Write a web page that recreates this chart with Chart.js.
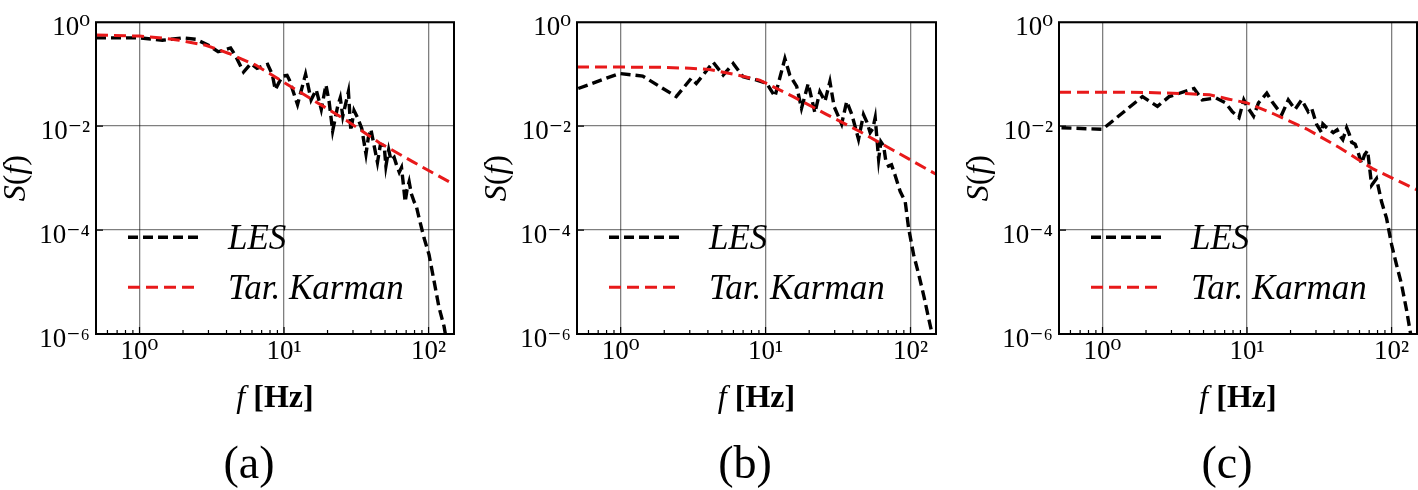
<!DOCTYPE html>
<html>
<head>
<meta charset="utf-8">
<script src="https://cdn.jsdelivr.net/npm/chart.js@4/dist/chart.umd.min.js"></script>
<style>
  html, body { margin: 0; padding: 0; background: #fff; }
  #wrap { position: relative; width: 1418px; height: 490px; overflow: hidden; background: #fff; }
  .panel { position: absolute; top: 0; height: 490px; }
  .cap { position: absolute; top: 440px; font-family: "Liberation Serif", "DejaVu Serif", serif;
         font-size: 46px; line-height: 46px; transform: translateX(-50%); color: #000; white-space: nowrap; }
</style>
</head>
<body>
<div id="wrap"></div>
<script>
// ---------------- data ----------------
const seriesNames = ['LES', 'Tar. Karman'];
const panelCaptions = ['(a)', '(b)', '(c)'];
const xTickValues = [1, 10, 100];
const xTickLabels = ['10⁰', '10¹', '10²'];
const yTickValues = [1e-6, 1e-4, 1e-2, 1];
const yTickLabels = ['10⁻⁶', '10⁻⁴', '10⁻²', '10⁰'];
const xRange = [0.5, 150];
const yRange = [1e-6, 1];

// panel (a)
const fA_LES = [0.5, 0.7, 1.0, 1.44, 2.0, 2.45, 3.0, 3.5, 4.27, 4.6,
                5.25, 5.9, 6.5, 7.7, 8.3, 8.7, 9.7, 10.5, 10.9, 12.4,
                14.1, 15.4, 16.7, 18.1, 19.5, 20.5, 21.7, 23.5, 24.5, 25.5,
                27.9, 29.0, 30.5, 32.3, 34.5, 36.9, 38.3, 39.9, 41.5, 44.3,
                46.5, 49.3, 50.7, 53.0, 55.0, 57.8, 60.0, 62.7, 65.0, 66.5,
                68.9, 71.0, 73.4, 76.0, 79.5, 82.0, 86.0, 93.0, 100.7, 109,
                118, 128, 135];
const sA_LES = [0.50, 0.50, 0.50, 0.45, 0.50, 0.47, 0.36, 0.27, 0.32, 0.23,
                0.11, 0.16, 0.13, 0.155, 0.098, 0.05, 0.091, 0.095, 0.077, 0.026,
                0.10, 0.032, 0.05, 0.021, 0.062, 0.03, 0.0081, 0.024, 0.035, 0.0155,
                0.046, 0.0081, 0.02, 0.0145, 0.009, 0.0029, 0.006, 0.0087, 0.005, 0.0020,
                0.0045, 0.0042, 0.0017, 0.0035, 0.0022, 0.0025, 0.0018, 0.0013, 0.0016, 0.0009,
                0.00035, 0.0006, 0.00085, 0.0005, 0.00035, 0.0003, 0.00017, 7.1e-5, 3.4e-5, 1.07e-5,
                3.3e-6, 1.4e-6, 6e-7];
const fA_KAR = [0.5, 1.0, 1.5, 1.88, 2.87, 4.16, 6.36, 9.7, 15.8, 26.9, 45.6, 77, 100, 142];
const sA_KAR = [0.57, 0.54, 0.49, 0.45, 0.36, 0.25, 0.15, 0.073, 0.032, 0.013, 0.0048, 0.0021, 0.0014, 0.00082];

// panel (b)
const fB_LES = [0.51, 0.98, 1.42, 2.42, 3.07, 3.33, 4.35, 5.1, 5.98, 7.0,
                8.7, 10.2, 11.6, 13.6, 14.7, 16.4, 17.7, 19.7, 21.9, 23.7,
                25.7, 27.8, 29.7, 33.5, 36.3, 39.4, 43.8, 47.4, 50, 52.7,
                55, 57.1, 60.3, 62.5, 65.2, 67.5, 70.6, 74, 78.6, 85,
                92, 97, 105, 114, 124, 134, 141, 146];
const sB_LES = [0.053, 0.103, 0.092, 0.037, 0.083, 0.066, 0.17, 0.096, 0.16, 0.089,
                0.077, 0.066, 0.037, 0.20, 0.096, 0.058, 0.022, 0.066, 0.018, 0.046,
                0.030, 0.072, 0.024, 0.011, 0.030, 0.0167, 0.0056, 0.0167, 0.012, 0.0075,
                0.009, 0.0145, 0.0023, 0.005, 0.0042, 0.0022, 0.0017, 0.0018, 0.0011, 0.00055,
                0.00035, 0.00011, 3.4e-5, 1.4e-5, 5.2e-6, 1.9e-6, 1e-6, 6e-7];
const fB_KAR = [0.5, 1, 2, 3, 4.1, 6, 9.1, 15.5, 26.5, 45, 76.5, 149];
const sB_KAR = [0.138, 0.137, 0.135, 0.13, 0.123, 0.10, 0.077, 0.037, 0.0167, 0.0078, 0.0034, 0.0012];

// panel (c)
const fC_LES = [0.52, 1.0, 1.89, 2.4, 2.89, 4.3, 4.9, 6.1, 7.1, 7.9,
                8.8, 9.5, 10, 11.1, 12, 13.7, 15.1, 17.4, 19.3, 21.5,
                23.9, 26.5, 28, 30.3, 32.8, 33.5, 35.6, 39.5, 42, 44,
                46, 48.9, 51, 53, 56, 58.8, 62, 65, 68.3, 72.8,
                78.7, 85.3, 92.3, 100, 108, 117, 127, 134, 140];
const sC_LES = [0.0093, 0.0087, 0.037, 0.024, 0.037, 0.053, 0.032, 0.035, 0.028, 0.019,
                0.0145, 0.032, 0.024, 0.0155, 0.028, 0.043, 0.028, 0.0167, 0.032, 0.021,
                0.032, 0.019, 0.022, 0.0108, 0.0075, 0.011, 0.0093, 0.0075, 0.0085, 0.0065,
                0.0055, 0.0093, 0.007, 0.0049, 0.0045, 0.0031, 0.0019, 0.0028, 0.0034, 0.00073,
                0.00098, 0.00035, 0.00017, 5.3e-5, 2.2e-5, 9.3e-6, 2.9e-6, 1.2e-6, 6e-7];
const fC_KAR = [0.5, 1, 2, 4, 5.5, 7.5, 10, 15.1, 25.9, 44, 74.6, 149];
const sC_KAR = [0.045, 0.045, 0.0445, 0.042, 0.040, 0.033, 0.028, 0.0175, 0.0088, 0.0038, 0.0015, 0.0006];

// ---------------- layout (pixels) ----------------
const panelLayout = [
  { left: 0,   width: 470, plotLeft: 96, padRight: 16, capX: 249 },
  { left: 480, width: 470, plotLeft: 97, padRight: 14, capX: 745 },
  { left: 960, width: 458, plotLeft: 99, padRight: 1,  capX: 1227 }
];
const panelData = [
  [fA_LES, sA_LES, fA_KAR, sA_KAR],
  [fB_LES, sB_LES, fB_KAR, sB_KAR],
  [fC_LES, sC_LES, fC_KAR, sC_KAR]
];

const SERIF = "'Liberation Serif', 'DejaVu Serif', serif";

function drawRuns(ctx, runs, x, y, align) {
  let w = 0;
  runs.forEach(r => { ctx.font = r.font; r.w = ctx.measureText(r.text).width; w += r.w; });
  let cx = align === 'center' ? x - w / 2 : x;
  ctx.textAlign = 'left';
  ctx.textBaseline = 'alphabetic';
  runs.forEach(r => { ctx.font = r.font; ctx.fillText(r.text, cx, y); cx += r.w; });
}

const decor = {
  id: 'decor',
  afterDraw(chart) {
    const { ctx, chartArea: a, scales: { x, y } } = chart;
    ctx.save();
    ctx.fillStyle = '#000';
    ctx.strokeStyle = '#000';
    // inward ticks
    ctx.lineWidth = 1.2;
    ctx.beginPath();
    for (let d = -1; d <= 2; d++) {
      for (let m = 1; m <= 9; m++) {
        const v = m * Math.pow(10, d);
        if (v <= x.min * 1.001 || v >= x.max * 0.999) continue;
        const px = x.getPixelForValue(v);
        const len = m === 1 ? 7 : 4;
        ctx.moveTo(px, a.bottom); ctx.lineTo(px, a.bottom - len);
      }
    }
    for (const v of yTickValues) {
      const py = y.getPixelForValue(v);
      if (py <= a.top + 1 || py >= a.bottom - 1) continue;
      ctx.moveTo(a.left, py); ctx.lineTo(a.left + 7, py);
    }
    ctx.stroke();
    // frame
    ctx.lineWidth = 2;
    ctx.strokeRect(a.left, a.top, a.right - a.left, a.bottom - a.top);

    // x-axis title: f [Hz]
    drawRuns(ctx, [
      { text: 'f', font: `italic 32px ${SERIF}` },
      { text: ' ', font: `32px ${SERIF}` },
      { text: '[Hz]', font: `bold 32px ${SERIF}` }
    ], (a.left + a.right) / 2, 407, 'center');

    // y-axis title: S(f)
    ctx.save();
    ctx.translate(a.left - 71, (a.top + a.bottom) / 2);
    ctx.rotate(-Math.PI / 2);
    drawRuns(ctx, [
      { text: 'S', font: `italic 32px ${SERIF}` },
      { text: '(', font: `32px ${SERIF}` },
      { text: 'f', font: `italic 32px ${SERIF}` },
      { text: ')', font: `32px ${SERIF}` }
    ], 0, 0, 'center');
    ctx.restore();

    // legend inside the axes (no frame)
    chart.data.datasets.forEach((ds, i) => {
      const rowY = a.top + 215 + i * 50;
      ctx.save();
      ctx.strokeStyle = ds.borderColor;
      ctx.lineWidth = ds.borderWidth;
      ctx.setLineDash(ds.borderDash);
      ctx.beginPath();
      ctx.moveTo(a.left + 32, rowY);
      ctx.lineTo(a.left + 104, rowY);
      ctx.stroke();
      ctx.restore();
      ctx.font = `italic 35px ${SERIF}`;
      ctx.textAlign = 'left';
      ctx.textBaseline = 'alphabetic';
      ctx.fillStyle = '#000';
      ctx.fillText(ds.label, a.left + 132, rowY + 12);
    });
    ctx.restore();
  }
};

const wrap = document.getElementById('wrap');

panelLayout.forEach((L, p) => {
  const div = document.createElement('div');
  div.className = 'panel';
  div.style.left = L.left + 'px';
  div.style.width = L.width + 'px';
  const canvas = document.createElement('canvas');
  canvas.width = L.width;
  canvas.height = 490;
  div.appendChild(canvas);
  wrap.appendChild(div);

  const cap = document.createElement('div');
  cap.className = 'cap';
  cap.style.left = L.capX + 'px';
  cap.textContent = panelCaptions[p];
  wrap.appendChild(cap);

  const [fL, sL, fK, sK] = panelData[p];
  const lesPts = fL.map((f, i) => ({ x: f, y: sL[i] }));
  const karPts = fK.map((f, i) => ({ x: f, y: sK[i] }));

  new Chart(canvas, {
    type: 'line',
    data: {
      datasets: [
        { label: seriesNames[0], data: lesPts, borderColor: '#000000', borderWidth: 3.4,
          borderDash: [10, 5], pointRadius: 0, fill: false, tension: 0, order: 1 },
        { label: seriesNames[1], data: karPts, borderColor: '#e8191a', borderWidth: 3,
          borderDash: [12, 6], pointRadius: 0, fill: false, tension: 0, order: 0 }
      ]
    },
    options: {
      responsive: false,
      devicePixelRatio: 1,
      animation: false,
      events: [],
      layout: { padding: { top: 18, right: L.padRight, left: 0, bottom: 0 } },
      plugins: { legend: { display: false }, tooltip: { enabled: false }, title: { display: false } },
      scales: {
        x: {
          type: 'logarithmic',
          min: xRange[0], max: xRange[1],
          afterBuildTicks: s => { s.ticks = xTickValues.map(v => ({ value: v })); },
          afterFit: s => { s.height = 156; },
          grid: { color: 'rgba(0,0,0,0.5)', lineWidth: 1.3, drawTicks: false },
          border: { display: false },
          ticks: {
            autoSkip: false, maxRotation: 0, padding: 2,
            color: '#000', font: { family: SERIF, size: 27 },
            callback: (v, i) => xTickLabels[i]
          }
        },
        y: {
          type: 'logarithmic',
          min: yRange[0], max: yRange[1],
          afterBuildTicks: s => { s.ticks = yTickValues.map(v => ({ value: v })); },
          afterFit: s => { s.width = L.plotLeft; },
          grid: { color: 'rgba(0,0,0,0.5)', lineWidth: 1.3, drawTicks: false },
          border: { display: false },
          ticks: {
            autoSkip: false, padding: 6, labelOffset: 6,
            color: '#000', font: { family: SERIF, size: 27 },
            callback: (v, i) => yTickLabels[i]
          }
        }
      }
    },
    plugins: [decor]
  });
});
</script>
</body>
</html>
